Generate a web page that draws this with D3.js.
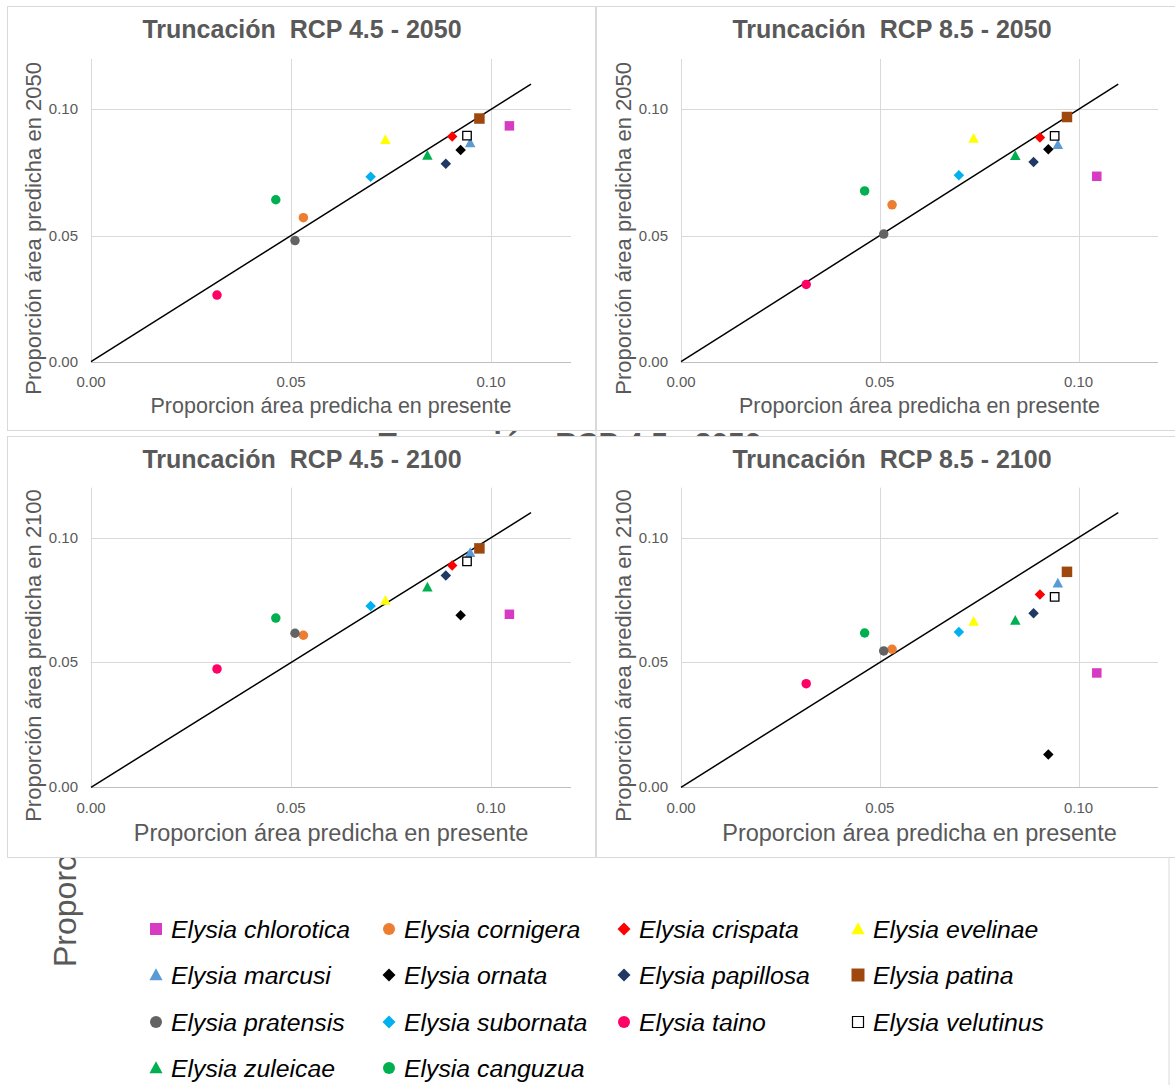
<!DOCTYPE html>
<html>
  <head>
    <meta charset="utf-8">
    <title>Truncación RCP - proporción área predicha</title>
    <script src="https://d3js.org/d3.v7.min.js"></script>
    <style>
      body { margin: 0; background: #fff; }
      text { font-family: "Liberation Sans", Arial, sans-serif; }
    </style>
  </head>
  <body>
    <script>
        // species, in legend order
        var species = ["Elysia chlorotica", "Elysia cornigera", "Elysia crispata", "Elysia evelinae",
                       "Elysia marcusi", "Elysia ornata", "Elysia papillosa", "Elysia patina",
                       "Elysia pratensis", "Elysia subornata", "Elysia taino", "Elysia velutinus",
                       "Elysia zuleicae", "Elysia canguzua"];
        var shapes = ["square", "circle", "diamond", "triangle",
                      "triangle", "diamond", "diamond", "square",
                      "circle", "diamond", "circle", "square",
                      "triangle", "circle"];
        var colors = ["#D83BC3", "#ED7D31", "#FF0000", "#FFFF00",
                      "#5B9BD5", "#000000", "#1F3864", "#9E480E",
                      "#636363", "#00B0F0", "#FF0066", "#FFFFFF",
                      "#00B050", "#00B050"];

        // proportion of predicted area, present (x) and future (y)
        var present    = [0.1046, 0.0531, 0.0903, 0.0736, 0.0948, 0.0924, 0.0887, 0.0971, 0.0510, 0.0699, 0.0315, 0.0940, 0.0841, 0.0462];
        var rcp45_2050 = [0.0935, 0.0571, 0.0893, 0.0880, 0.0867, 0.0839, 0.0785, 0.0964, 0.0480, 0.0733, 0.0264, 0.0896, 0.0817, 0.0642];
        var rcp85_2050 = [0.0735, 0.0622, 0.0889, 0.0885, 0.0860, 0.0842, 0.0792, 0.0970, 0.0506, 0.0739, 0.0306, 0.0895, 0.0816, 0.0677];
        var rcp45_2100 = [0.0693, 0.0609, 0.0888, 0.0748, 0.0939, 0.0689, 0.0848, 0.0957, 0.0617, 0.0726, 0.0474, 0.0905, 0.0801, 0.0678];
        var rcp85_2100 = [0.0458, 0.0553, 0.0772, 0.0664, 0.0817, 0.0131, 0.0697, 0.0863, 0.0546, 0.0622, 0.0415, 0.0763, 0.0668, 0.0618];

        var ticks = [0, 0.05, 0.10];
        var lineEnd = 0.11;

        var panels = [
          {title: "Truncación\u00a0 RCP 4.5 - 2050", yTitle: "Proporción área predicha en 2050", values: rcp45_2050,
           box: [7, 6, 588, 424], plot: [91, 571, 361.7, 59], xtSize: 21.5, titleY: 38},
          {title: "Truncación\u00a0 RCP 8.5 - 2050", yTitle: "Proporción área predicha en 2050", values: rcp85_2050,
           box: [596, 6, 600, 424], plot: [681, 1158, 361.7, 59], xtSize: 21.5, titleY: 38},
          {title: "Truncación\u00a0 RCP 4.5 - 2100", yTitle: "Proporción área predicha en 2100", values: rcp45_2100,
           box: [7, 436, 588, 421], plot: [91, 571, 787.3, 487.7], xtSize: 23.5, titleY: 468},
          {title: "Truncación\u00a0 RCP 8.5 - 2100", yTitle: "Proporción área predicha en 2100", values: rcp85_2100,
           box: [596, 436, 600, 421], plot: [681, 1158, 787.3, 487.7], xtSize: 23.5, titleY: 468}
        ];

        var svg = d3.select("body").append("svg")
            .attr("width", 1175)
            .attr("height", 1085);

        function shapePath(type, s) {
          var h = s / 2;
          if (type == "square") return "M" + (-h) + "," + (-h) + "H" + h + "V" + h + "H" + (-h) + "Z";
          if (type == "diamond") return "M0," + (-h) + "L" + h + ",0L0," + h + "L" + (-h) + ",0Z";
          if (type == "triangle") return "M0," + (-s * 0.55) + "L" + (h * 1.05) + "," + (s * 0.42) + "L" + (-h * 1.05) + "," + (s * 0.42) + "Z";
          return "M" + h + ",0A" + h + "," + h + " 0 1,1 " + (-h) + ",0A" + h + "," + h + " 0 1,1 " + h + ",0Z";
        }
        function markerSize(i, big) {
          var base = shapes[i] == "diamond" ? 10.5 : shapes[i] == "triangle" ? 10 : 9.5;
          if (species[i] == "Elysia velutinus") base = 8.5;
          if (species[i] == "Elysia patina") base = 10.5;
          return big ? base + 2.5 : base;
        }

        // leftovers of a chart that lies underneath
        var defs = svg.append("defs");
        defs.append("clipPath")
            .attr("id", "gap")
            .append("rect")
              .attr("x", 300).attr("y", 426).attr("width", 560).attr("height", 12);
        defs.append("clipPath")
            .attr("id", "below")
            .append("rect")
              .attr("x", 0).attr("y", 857).attr("width", 200).attr("height", 228);
        svg.append("line")
            .attr("x1", 1169).attr("x2", 1169).attr("y1", 857).attr("y2", 1085)
            .style("stroke", "#d9d9d9");
        svg.append("g")
            .attr("clip-path", "url(#below)")
            .append("text")
              .attr("transform", "translate(76,967) rotate(-90)")
              .attr("font-size", "32px")
              .style("fill", "#595959")
              .text("Proporción área predicha en presente");
        svg.append("text")
            .attr("x", 570).attr("y", 452.5)
            .attr("clip-path", "url(#gap)")
            .attr("text-anchor", "middle")
            .attr("font-size", "30px")
            .attr("font-weight", "bold")
            .style("fill", "#595959")
            .text("Truncación\u00a0 RCP 4.5 - 2050");
        svg.append("line")
            .attr("x1", 596).attr("x2", 596).attr("y1", 420).attr("y2", 440)
            .style("stroke", "#d9d9d9");

        panels.forEach(function(p) {
          var g = svg.append("g");

          g.append("rect")
              .attr("x", p.box[0] + 0.5).attr("y", p.box[1] + 0.5)
              .attr("width", p.box[2]).attr("height", p.box[3])
              .style("fill", "#fff")
              .style("stroke", "#d9d9d9");

          var x = d3.scaleLinear().domain([0, 0.12]).range([p.plot[0], p.plot[1]]);
          var y = d3.scaleLinear().domain([0, 0.12]).range([p.plot[2], p.plot[3]]);

          // grid
          g.append("g").selectAll("line.v")
              .data(ticks)
              .enter()
              .append("line")
                .attr("x1", function(d) { return Math.round(x(d)) + 0.5; })
                .attr("x2", function(d) { return Math.round(x(d)) + 0.5; })
                .attr("y1", y(0)).attr("y2", y(0.12))
                .style("stroke", "#d9d9d9");
          g.append("g").selectAll("line.h")
              .data(ticks)
              .enter()
              .append("line")
                .attr("y1", function(d) { return Math.round(y(d)) + 0.5; })
                .attr("y2", function(d) { return Math.round(y(d)) + 0.5; })
                .attr("x1", x(0)).attr("x2", x(0.12))
                .style("stroke", function(d) { return d == 0 ? "#bfbfbf" : "#d9d9d9"; });

          // tick labels
          g.append("g").selectAll("text")
              .data(ticks)
              .enter()
              .append("text")
                .attr("x", x(0) - 13)
                .attr("y", function(d) { return y(d) + 5; })
                .attr("text-anchor", "end")
                .attr("font-size", "15px")
                .style("fill", "#595959")
                .text(d3.format(".2f"));
          g.append("g").selectAll("text")
              .data(ticks)
              .enter()
              .append("text")
                .attr("x", function(d) { return x(d); })
                .attr("y", y(0) + 25.5)
                .attr("text-anchor", "middle")
                .attr("font-size", "15px")
                .style("fill", "#595959")
                .text(d3.format(".2f"));

          // 1:1 line
          g.append("line")
              .attr("x1", x(0)).attr("y1", y(0))
              .attr("x2", x(lineEnd)).attr("y2", y(lineEnd))
              .style("stroke", "#000")
              .style("stroke-width", 1.5);

          // points
          g.append("g").selectAll("path")
              .data(species)
              .enter()
              .append("path")
                .attr("transform", function(d, i) { return "translate(" + x(present[i]) + "," + y(p.values[i]) + ")"; })
                .attr("d", function(d, i) { return shapePath(shapes[i], markerSize(i, false)); })
                .style("fill", function(d, i) { return colors[i]; })
                .style("stroke", function(d, i) { return species[i] == "Elysia velutinus" ? "#000" : "none"; })
                .style("stroke-width", 1.3);

          // titles
          g.append("text")
              .attr("x", p.plot[0] + 211)
              .attr("y", p.titleY)
              .attr("text-anchor", "middle")
              .attr("font-size", "25px")
              .attr("font-weight", "bold")
              .style("fill", "#595959")
              .text(p.title);
          g.append("text")
              .attr("x", (p.plot[0] + p.plot[1]) / 2)
              .attr("y", y(0) + (p.xtSize > 22 ? 54 : 51.5))
              .attr("text-anchor", "middle")
              .attr("font-size", p.xtSize + "px")
              .style("fill", "#595959")
              .text("Proporcion área predicha en presente");
          g.append("text")
              .attr("transform", "translate(" + (p.plot[0] - 50) + "," + (p.plot[3] + (p.plot[2] - p.plot[3]) / 2 + 18) + ") rotate(-90)")
              .attr("text-anchor", "middle")
              .attr("font-size", "22px")
              .style("fill", "#595959")
              .text(p.yTitle);
        });

        // legend
        var legX = [156, 389, 624, 858];
        var legY = [929, 975, 1022, 1068];
        var legend = svg.append("g").selectAll("g")
            .data(species)
            .enter()
            .append("g")
              .attr("transform", function(d, i) { return "translate(" + legX[i % 4] + "," + legY[Math.floor(i / 4)] + ")"; });
        legend.append("path")
            .attr("d", function(d, i) { return shapePath(shapes[i], markerSize(i, true)); })
            .style("fill", function(d, i) { return colors[i]; })
            .style("stroke", function(d, i) { return d == "Elysia velutinus" ? "#000" : "none"; })
            .style("stroke-width", 1.2);
        legend.append("text")
            .attr("x", 15)
            .attr("y", 8.5)
            .attr("font-size", "24.8px")
            .attr("font-style", "italic")
            .style("fill", "#000")
            .text(function(d) { return d; });
    </script>
  </body>
</html>
